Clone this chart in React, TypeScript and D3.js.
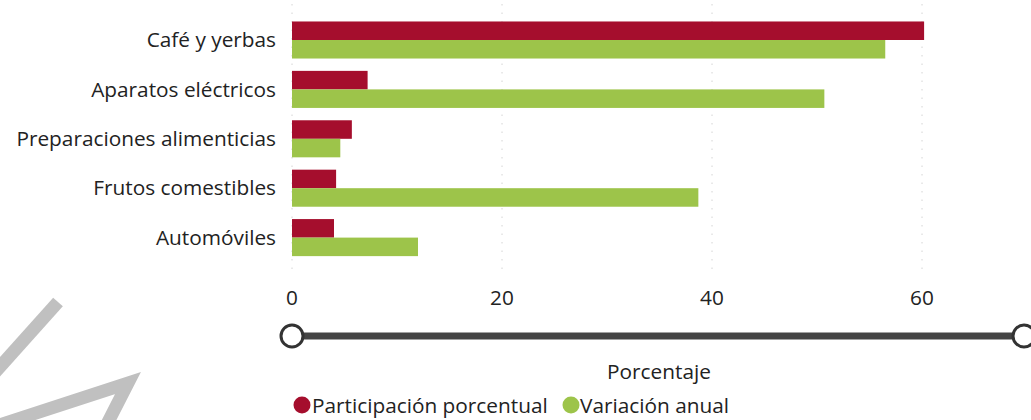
import * as d3 from 'd3';

const categories = ['Café y yerbas', 'Aparatos eléctricos', 'Preparaciones alimenticias', 'Frutos comestibles', 'Automóviles'];
const participacion = [60.2, 7.2, 5.7, 4.2, 4.0];
const variacion = [56.5, 50.7, 4.6, 38.7, 12.0];
const seriesNames = ['Participación porcentual', 'Variación anual'];
const seriesColors = ['#a50e2d', '#9dc44a'];
const xTicks = [0, 20, 40, 60];

const W = 1031;
const H = 420;
const FONT = '"Open Sans", "Noto Sans", sans-serif';
const FS = 20.8;
const TXT = '#222';

export default function App() {
  const x = d3.scaleLinear().domain([0, 70]).range([292, 1027]);
  const y = d3.scaleBand<string>().domain(categories).range([15.3, 262.3]).paddingInner(0.25).paddingOuter(0.125);
  const inner = d3.scaleBand<string>().domain(seriesNames).range([0, y.bandwidth()]);
  const series = [participacion, variacion];

  return (
    <svg width={W} height={H} style={{ position: 'absolute', left: 0, top: 0, background: '#fff' }} fontFamily={FONT} fontWeight={500}>
      {/* watermark strokes */}
      <g stroke="#c0c0c0" strokeWidth={13} fill="none" strokeLinecap="butt">
        <line x1={58} y1={302} x2={-10} y2={378} />
        <path d="M -10 428 L 128 383 L 104 430" />
      </g>

      {/* dotted gridlines */}
      {xTicks.map(t => (
        <line key={t} x1={x(t)} x2={x(t)} y1={4} y2={274} stroke="#d4d4d4" strokeWidth={1} strokeDasharray="1.5 7" />
      ))}

      {/* bars */}
      {categories.map((c, i) => (
        <g key={c} transform={`translate(0,${y(c)})`}>
          {series.map((s, j) => (
            <rect key={j} x={x(0)} y={inner(seriesNames[j])} width={x(s[i]) - x(0)} height={inner.bandwidth()} fill={seriesColors[j]} />
          ))}
        </g>
      ))}

      {/* category labels */}
      {categories.map(c => (
        <text key={c} x={276} y={(y(c) ?? 0) + y.bandwidth() / 2} dy="0.35em" textAnchor="end" fontSize={FS} fill={TXT}>{c}</text>
      ))}

      {/* tick labels */}
      {xTicks.map(t => (
        <text key={t} x={x(t)} y={305} textAnchor="middle" fontSize={FS} fill={TXT}>{t}</text>
      ))}

      {/* range slider */}
      <line x1={x(0)} x2={1024} y1={336} y2={336} stroke="#444" strokeWidth={7} />
      <circle cx={x(0)} cy={336} r={11} fill="#fff" stroke="#333" strokeWidth={3} />
      <circle cx={1024} cy={336} r={11} fill="#fff" stroke="#333" strokeWidth={3} />

      {/* axis title */}
      <text x={659} y={379} textAnchor="middle" fontSize={FS} fill={TXT}>Porcentaje</text>

      {/* legend */}
      <circle cx={302} cy={405} r={8.5} fill={seriesColors[0]} />
      <text x={312} y={413} fontSize={FS} fill={TXT}>{seriesNames[0]}</text>
      <circle cx={571} cy={405} r={8.5} fill={seriesColors[1]} />
      <text x={580} y={413} fontSize={FS} fill={TXT}>{seriesNames[1]}</text>
    </svg>
  );
}
